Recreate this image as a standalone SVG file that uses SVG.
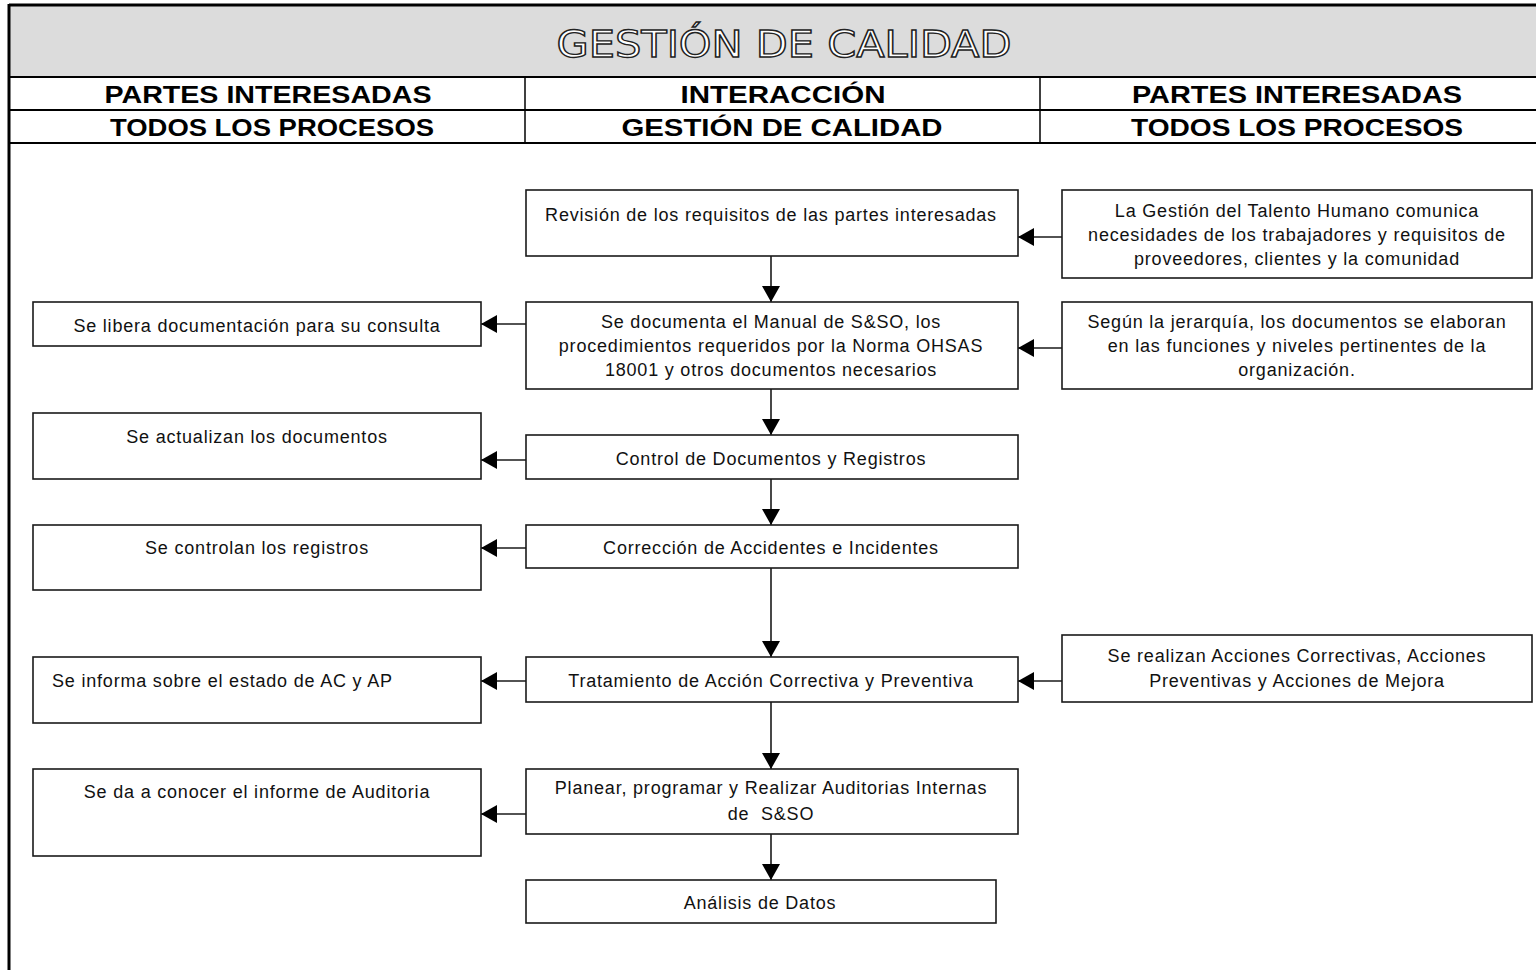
<svg xmlns="http://www.w3.org/2000/svg" width="1536" height="970" viewBox="0 0 1536 970">
  <style>
    .box { fill: #ffffff; stroke: #1a1a1a; stroke-width: 1.6; }
    .lbl { font-family: "Liberation Sans", Arial, sans-serif; font-size: 18px; letter-spacing: 0.8px; fill: #111; text-anchor: middle; }
    .lbl-start { font-family: "Liberation Sans", Arial, sans-serif; font-size: 18px; letter-spacing: 0.8px; fill: #111; text-anchor: start; }
    .hdr { font-family: "Liberation Sans", Arial, sans-serif; font-weight: bold; font-size: 23px; fill: #000; text-anchor: middle; }
    .rule { stroke: #000; stroke-width: 2; }
    .conn { stroke: #1a1a1a; stroke-width: 1.6; fill: none; }
  </style>
  <defs>
    <marker id="arr" viewBox="0 0 16 18" refX="16" refY="9" markerWidth="16" markerHeight="18" markerUnits="userSpaceOnUse" orient="auto">
      <path d="M0,0 L16,9 L0,18 Z" fill="#000"/>
    </marker>
  </defs>

  <rect x="0" y="0" width="1536" height="970" fill="#ffffff"/>

  <!-- table header -->
  <g id="header">
    <rect x="9" y="5" width="1530" height="72" fill="#dcdcdc"/>
    <line x1="9" y1="5" x2="1536" y2="5" stroke="#000" stroke-width="3"/>
    <line x1="9" y1="4" x2="9" y2="970" stroke="#000" stroke-width="3"/>
    <line class="rule" x1="9" y1="77" x2="1536" y2="77"/>
    <line class="rule" x1="9" y1="110" x2="1536" y2="110"/>
    <line class="rule" x1="9" y1="143" x2="1536" y2="143"/>
    <line x1="525" y1="77" x2="525" y2="143" stroke="#000" stroke-width="1.5"/>
    <line x1="1040" y1="77" x2="1040" y2="143" stroke="#000" stroke-width="1.5"/>
    <text x="784" y="57" font-family="'DejaVu Sans Condensed', 'DejaVu Sans', sans-serif" font-size="38" fill="#ffffff" stroke="#222" stroke-width="1.3" text-anchor="middle" textLength="455" lengthAdjust="spacingAndGlyphs">GESTIÓN DE CALIDAD</text>
    <text class="hdr" x="268" y="103" textLength="327" lengthAdjust="spacingAndGlyphs">PARTES INTERESADAS</text>
    <text class="hdr" x="783" y="103" textLength="205" lengthAdjust="spacingAndGlyphs">INTERACCIÓN</text>
    <text class="hdr" x="1297" y="103" textLength="330" lengthAdjust="spacingAndGlyphs">PARTES INTERESADAS</text>
    <text class="hdr" x="272" y="136" textLength="324" lengthAdjust="spacingAndGlyphs">TODOS LOS PROCESOS</text>
    <text class="hdr" x="782" y="136" textLength="321" lengthAdjust="spacingAndGlyphs">GESTIÓN DE CALIDAD</text>
    <text class="hdr" x="1297" y="136" textLength="332" lengthAdjust="spacingAndGlyphs">TODOS LOS PROCESOS</text>
  </g>

  <!-- connectors -->
  <g id="connectors">
    <line class="conn" x1="771" y1="256" x2="771" y2="302" marker-end="url(#arr)"/>
    <line class="conn" x1="771" y1="389" x2="771" y2="435" marker-end="url(#arr)"/>
    <line class="conn" x1="771" y1="479" x2="771" y2="525" marker-end="url(#arr)"/>
    <line class="conn" x1="771" y1="568" x2="771" y2="657" marker-end="url(#arr)"/>
    <line class="conn" x1="771" y1="702" x2="771" y2="769" marker-end="url(#arr)"/>
    <line class="conn" x1="771" y1="834" x2="771" y2="880" marker-end="url(#arr)"/>
    <line class="conn" x1="1062" y1="237" x2="1018" y2="237" marker-end="url(#arr)"/>
    <line class="conn" x1="1062" y1="348" x2="1018" y2="348" marker-end="url(#arr)"/>
    <line class="conn" x1="526" y1="324" x2="481" y2="324" marker-end="url(#arr)"/>
    <line class="conn" x1="526" y1="460" x2="481" y2="460" marker-end="url(#arr)"/>
    <line class="conn" x1="526" y1="548" x2="481" y2="548" marker-end="url(#arr)"/>
    <line class="conn" x1="526" y1="681" x2="481" y2="681" marker-end="url(#arr)"/>
    <line class="conn" x1="1062" y1="681" x2="1018" y2="681" marker-end="url(#arr)"/>
    <line class="conn" x1="526" y1="814" x2="481" y2="814" marker-end="url(#arr)"/>
  </g>

  <!-- central process column -->
  <g id="revision">
    <rect class="box" x="526" y="190" width="492" height="66"/>
    <text class="lbl" x="771" y="221">Revisión de los requisitos de las partes interesadas</text>
  </g>
  <g id="documenta">
    <rect class="box" x="526" y="302" width="492" height="87"/>
    <text class="lbl" x="771" y="328">Se documenta el Manual de S&amp;SO, los</text>
    <text class="lbl" x="771" y="352">procedimientos requeridos por la Norma OHSAS</text>
    <text class="lbl" x="771" y="376">18001 y otros documentos necesarios</text>
  </g>
  <g id="control">
    <rect class="box" x="526" y="435" width="492" height="44"/>
    <text class="lbl" x="771" y="465">Control de Documentos y Registros</text>
  </g>
  <g id="correccion">
    <rect class="box" x="526" y="525" width="492" height="43"/>
    <text class="lbl" x="771" y="554">Corrección de Accidentes e Incidentes</text>
  </g>
  <g id="tratamiento">
    <rect class="box" x="526" y="657" width="492" height="45"/>
    <text class="lbl" x="771" y="687">Tratamiento de Acción Correctiva y Preventiva</text>
  </g>
  <g id="auditorias">
    <rect class="box" x="526" y="769" width="492" height="65"/>
    <text class="lbl" x="771" y="794">Planear, programar y Realizar Auditorias Internas</text>
    <text class="lbl" x="771" y="820" xml:space="preserve">de  S&amp;SO</text>
  </g>
  <g id="analisis">
    <rect class="box" x="526" y="880" width="470" height="43"/>
    <text class="lbl" x="760" y="909">Análisis de Datos</text>
  </g>

  <!-- left column -->
  <g id="libera">
    <rect class="box" x="33" y="302" width="448" height="44"/>
    <text class="lbl" x="257" y="332">Se libera documentación para su consulta</text>
  </g>
  <g id="actualizan">
    <rect class="box" x="33" y="413" width="448" height="66"/>
    <text class="lbl" x="257" y="443">Se actualizan los documentos</text>
  </g>
  <g id="controlan">
    <rect class="box" x="33" y="525" width="448" height="65"/>
    <text class="lbl" x="257" y="554">Se controlan los registros</text>
  </g>
  <g id="informa">
    <rect class="box" x="33" y="657" width="448" height="66"/>
    <text class="lbl-start" x="52" y="687">Se informa sobre el estado de AC y AP</text>
  </g>
  <g id="informe">
    <rect class="box" x="33" y="769" width="448" height="87"/>
    <text class="lbl" x="257" y="798">Se da a conocer el informe de Auditoria</text>
  </g>

  <!-- right column -->
  <g id="talento">
    <rect class="box" x="1062" y="190" width="470" height="88"/>
    <text class="lbl" x="1297" y="217">La Gestión del Talento Humano comunica</text>
    <text class="lbl" x="1297" y="241">necesidades de los trabajadores y requisitos de</text>
    <text class="lbl" x="1297" y="265">proveedores, clientes y la comunidad</text>
  </g>
  <g id="jerarquia">
    <rect class="box" x="1062" y="302" width="470" height="87"/>
    <text class="lbl" x="1297" y="328">Según la jerarquía, los documentos se elaboran</text>
    <text class="lbl" x="1297" y="352">en las funciones y niveles pertinentes de la</text>
    <text class="lbl" x="1297" y="376">organización.</text>
  </g>
  <g id="acciones">
    <rect class="box" x="1062" y="635" width="470" height="67"/>
    <text class="lbl" x="1297" y="662">Se realizan Acciones Correctivas, Acciones</text>
    <text class="lbl" x="1297" y="687">Preventivas y Acciones de Mejora</text>
  </g>
</svg>
